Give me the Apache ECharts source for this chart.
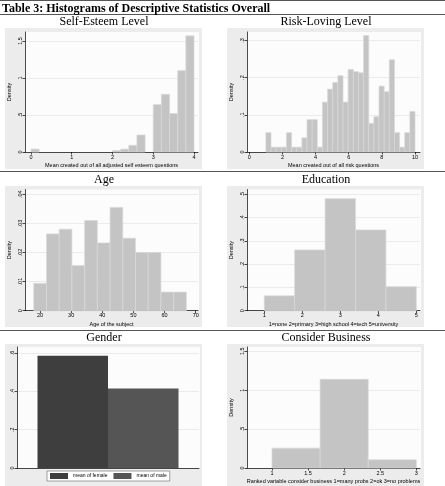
<!DOCTYPE html>
<html><head><meta charset="utf-8">
<script src="https://cdn.jsdelivr.net/npm/echarts@6/dist/echarts.min.js"></script>
<style>html,body{margin:0;padding:0;background:#fff}#c{width:445px;height:486px}</style>
</head><body><div id="c"></div>
<script>
// ---------------- data ----------------
const mainTitle = 'Table 3: Histograms of Descriptive Statistics Overall';
const panelTitles = ['Self-Esteem Level', 'Risk-Loving Level', 'Age', 'Education', 'Gender', 'Consider Business'];
const xTitles = [
  'Mean created out of all adjusted self esteem questions',
  'Mean created out of all risk questions',
  'Age of the subject',
  '1=none 2=primary 3=high school 4=tech 5=university',
  '',
  'Ranked variable consider business 1=many probs 2=ok 3=no problems'
];
const yTitle = 'Density';

// self-esteem: 20 bins from 0 to 4
const seRange = [0, 4];
const seDensity = [0.039,0,0,0,0,0,0,0,0,0,0.02,0.039,0.09,0.23,0,0.64,0.78,0.52,1.10,1.57];
const seXTicks = [0,1,2,3,4];
const seYTicks = [0,0.5,1,1.5];

// risk-loving: 29 bins from 1 to 10
const riskRange = [1, 10];
const riskDensity = [0.052,0.013,0.013,0.013,0.052,0.013,0.013,0.038,0.087,0.087,0.013,0.134,0.169,0.187,0.205,0.134,0.222,0.216,0.213,0.313,0.077,0.095,0.177,0.162,0.248,0.052,0.013,0.052,0.109];
const riskXTicks = [0,2,4,6,8,10];
const riskYTicks = [0,0.1,0.2,0.3];

// age: 12 bins from 18 to 67
const ageRange = [18, 67];
const ageDensity = [0.0094,0.0264,0.028,0.0155,0.031,0.0233,0.0355,0.0249,0.020,0.020,0.0064,0.0064];
const ageXTicks = [20,30,40,50,60,70];
const ageYTicks = [0,0.01,0.02,0.03,0.04];

// education: 5 bins from 1 to 5
const eduRange = [1, 5];
const eduDensity = [0.064,0.261,0.481,0.347,0.103];
const eduXTicks = [1,2,3,4,5];
const eduYTicks = [0,0.1,0.2,0.3,0.4,0.5];

// gender means
const genderNames = ['mean of female', 'mean of male'];
const genderMeans = [0.585, 0.415];
const genderYTicks = [0,0.2,0.4,0.6];

// consider business: 3 bins from 1 to 3
const busRange = [1, 3];
const busDensity = [0.255,1.14,0.105];
const busXTicks = [1,1.5,2,2.5,3];
const busYTicks = [0,0.5,1,1.5];

// ---------------- styling / layout ----------------
const SANS = 'Liberation Sans';
const SERIF = 'Liberation Serif';
const FS = 5.5;
const BAR_FILL = '#c4c4c4';
const BAR_EDGE = '#d9d9d9';
const OUTER = '#ececec';
const INNER = '#fcfcfc';
const GRIDLINE = '#e4e4e4';

function fmt(v) {
  if (v === 0) return '0';
  return String(+v.toFixed(4)).replace(/^0\./, '.');
}

const grids = [
  {left: 25, top: 32, width: 173, height: 120},
  {left: 247, top: 32, width: 173, height: 120},
  {left: 25, top: 189.5, width: 173, height: 121.2},
  {left: 247, top: 189.5, width: 173, height: 121.2},
  {left: 17, top: 347, width: 182, height: 121},
  {left: 247, top: 347, width: 173, height: 121}
];
const xLims = [[-0.147, 4.098], [-0.139, 10.30], [15.18, 70.74], [0.545, 5.097], null, [0.6535, 3.051]];
const yLims = [[0, 1.622], [0, 0.3226], [0, 0.04165], [0, 0.5206], [0, 0.631], [0, 1.555]];
const xTicks = [seXTicks, riskXTicks, ageXTicks, eduXTicks, null, busXTicks];
const yTicks = [seYTicks, riskYTicks, ageYTicks, eduYTicks, genderYTicks, busYTicks];
const hists = [[seRange, seDensity], [riskRange, riskDensity], [ageRange, ageDensity], [eduRange, eduDensity], null, [busRange, busDensity]];

const lineStyle = {color: '#000', width: 0.7};

const xAxes = [], yAxes = [], series = [];
for (let i = 0; i < 6; i++) {
  if (i === 4) {
    xAxes.push({
      gridIndex: i, type: 'category', data: [''],
      axisLine: {show: true, onZero: false, lineStyle},
      axisTick: {show: false}, axisLabel: {show: false}, splitLine: {show: false}
    });
  } else {
    xAxes.push({
      gridIndex: i, type: 'value', min: xLims[i][0], max: xLims[i][1],
      axisLine: {show: true, onZero: false, lineStyle},
      axisTick: {show: true, length: 2.5, customValues: xTicks[i], lineStyle},
      axisLabel: {show: true, customValues: xTicks[i], fontSize: FS, margin: 2, color: '#000', fontFamily: SANS, formatter: fmt},
      splitLine: {show: false},
      name: xTitles[i], nameLocation: 'middle', nameGap: 10.5,
      nameTextStyle: {fontSize: FS, fontFamily: SANS, color: '#000'}
    });
  }
  yAxes.push({
    gridIndex: i, type: 'value', min: yLims[i][0], max: yLims[i][1],
    axisLine: {show: true, onZero: false, lineStyle},
    axisTick: {show: true, length: 2.5, customValues: yTicks[i], lineStyle},
    axisLabel: {show: true, customValues: yTicks[i], rotate: 90, fontSize: FS, margin: 2, color: '#000', fontFamily: SANS, formatter: fmt},
    splitLine: {show: true, lineStyle: {color: GRIDLINE, width: 0.7}},
    name: i === 4 ? '' : yTitle, nameLocation: 'middle', nameRotate: 90, nameGap: 12.5,
    nameTextStyle: {fontSize: FS, fontFamily: SANS, color: '#000'}
  });
  if (hists[i]) {
    const range = hists[i][0], dens = hists[i][1];
    const w = (range[1] - range[0]) / dens.length;
    const data = [];
    dens.forEach((d, k) => { if (d > 0) data.push([range[0] + k * w, range[0] + (k + 1) * w, d]); });
    series.push({
      type: 'custom', xAxisIndex: i, yAxisIndex: i, silent: true,
      encode: {x: [0, 1], y: 2},
      data,
      renderItem: function (params, api) {
        const p0 = api.coord([api.value(0), api.value(2)]);
        const p1 = api.coord([api.value(1), 0]);
        return {
          type: 'rect',
          shape: {x: p0[0], y: p0[1], width: p1[0] - p0[0], height: p1[1] - p0[1]},
          style: {fill: BAR_FILL, stroke: BAR_EDGE, lineWidth: 0.7}
        };
      }
    });
  }
}
const genderColors = ['#3e3e3e', '#555555'];
genderNames.forEach((n, k) => {
  series.push({
    type: 'bar', name: n, xAxisIndex: 4, yAxisIndex: 4, silent: true,
    barWidth: 70.5, barGap: '0%', data: [genderMeans[k]],
    itemStyle: {color: genderColors[k]}
  });
});

const colX = [104, 326];
const rowY = [15.5, 173.5, 331.5];
const titles = [{
  text: mainTitle, left: 2, top: 2.5, padding: 0,
  textStyle: {fontFamily: SERIF, fontSize: 12, fontWeight: 'bold', color: '#000'}
}];
panelTitles.forEach((t, i) => {
  titles.push({
    text: t, left: colX[i % 2], top: rowY[Math.floor(i / 2)], textAlign: 'center', padding: 0,
    textStyle: {fontFamily: SERIF, fontSize: 12, fontWeight: 'normal', color: '#000'}
  });
});

const outerBoxes = [[5, 28, 197, 141], [227, 28, 197, 141], [5, 186, 197, 141], [227, 186, 197, 141], [5, 344, 197, 142], [227, 344, 197, 142]];
const elements = [];
outerBoxes.forEach(b => elements.push({type: 'rect', z: -20, silent: true, shape: {x: b[0], y: b[1], width: b[2], height: b[3]}, style: {fill: OUTER}}));
grids.forEach(g => elements.push({type: 'rect', z: -19, silent: true, shape: {x: g.left, y: g.top, width: g.width + 1, height: g.height}, style: {fill: INNER}}));
[0.5, 14.5, 171.5, 330.5].forEach(y => elements.push({type: 'line', z: -18, silent: true, shape: {x1: 0, y1: y, x2: 445, y2: y}, style: {stroke: '#555', lineWidth: 1}}));

const option = {
  animation: false,
  backgroundColor: '#fff',
  title: titles,
  grid: grids.map(g => Object.assign({containLabel: false}, g)),
  xAxis: xAxes,
  yAxis: yAxes,
  legend: {
    data: genderNames, left: 47, top: 471, orient: 'horizontal',
    icon: 'rect', itemWidth: 18, itemHeight: 6, itemGap: 6,
    padding: [2, 3, 2, 3], borderColor: '#888', borderWidth: 0.8, backgroundColor: '#fff',
    textStyle: {fontSize: 5, fontFamily: SANS, color: '#000'},
    selectedMode: false
  },
  graphic: {elements},
  series
};
const chart = echarts.init(document.getElementById('c'), null, {renderer: 'canvas'});
chart.setOption(option);
</script>
</body></html>
